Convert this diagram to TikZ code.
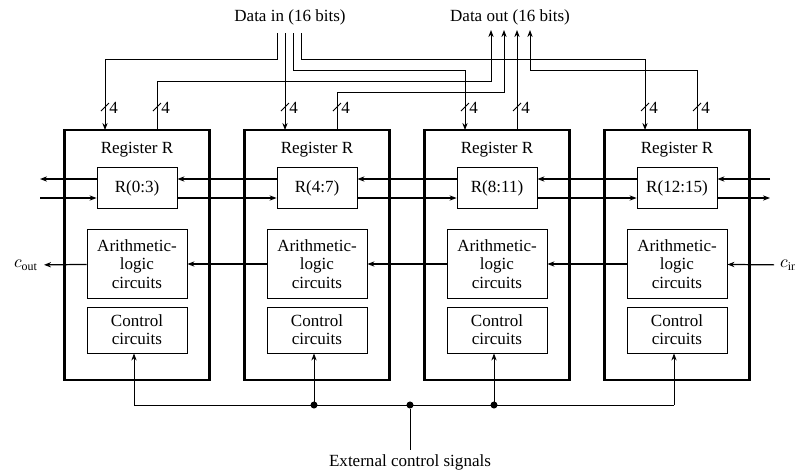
\documentclass[tikz,border=0pt]{standalone}
\usepackage{fontspec}
\setmainfont{Liberation Serif}
\usetikzlibrary{
    arrows.meta,
    positioning
}

\begin{document}
\begin{tikzpicture}[
        x=0.02cm,
        y=-0.02cm,
        >={Stealth[length=4pt,width=3pt]},
        every node/.style={
            font=\fontsize{9.7}{10.4}\selectfont
        },
        blk/.style={draw, line width=1.2pt, minimum width=2.9cm, minimum height=5cm},
        reg/.style={draw, line width=0.5pt, minimum width=1.6cm, minimum height=0.82cm},
        alu/.style={draw, line width=0.5pt, minimum width=2cm, minimum height=1.38cm, align=center},
        ctl/.style={draw, line width=0.5pt, minimum width=2cm, minimum height=0.92cm, align=center},
        bus/.style={line width=0.7pt},
        wire/.style={line width=0.5pt},
        dot/.style={circle, fill, inner sep=0pt, minimum size=4pt}
    ]

    \useasboundingbox (0,0) rectangle (795,474);

    % the four 4-bit slices
    \foreach \i/\x/\bits in {1/137/0:3, 2/317/4:7, 3/497/8:11, 4/677/12:15} {
        \node[blk] (blk\i) at (\x,255) {};
        \node (name\i) at (\x,150) {Register R};
        \node[reg] (reg\i) at (\x,188) {R(\bits)};
        \node[alu] (alu\i) at (\x,264) {Arithmetic-\\logic\\circuits};
        \node[ctl] (ctl\i) at (\x,330) {Control\\circuits};
        \coordinate (in\i) at (\x-32,130);
        \coordinate (out\i) at (\x+20,130);
        \coordinate (cc\i) at (\x-3,405);
    }

    \node (din) at (290,17) {Data in (16 bits)};
    \node (dout) at (510,17) {Data out (16 bits)};
    \coordinate (din1) at (277,33);
    \coordinate (din2) at (285,33);
    \coordinate (din3) at (293,33);
    \coordinate (din4) at (301,33);
    \coordinate (dout1) at (491,30);
    \coordinate (dout2) at (504,30);
    \coordinate (dout3) at (517,30);
    \coordinate (dout4) at (530,30);

    \draw[wire,->] (din1) -- ++(0,26) -| (in1);
    \draw[wire,->] (din2) -- (in2);
    \draw[wire,->] (din3) -- ++(0,37) -| (in3);
    \draw[wire,->] (din4) -- ++(0,26) -| (in4);
    \draw[wire,->] (out1) -- ++(0,-49) -| (dout1);
    \draw[wire,->] (out2) -- ++(0,-38) -| (dout2);
    \draw[wire,->] (out3) -- (dout3);
    \draw[wire,->] (out4) -- ++(0,-60) -| (dout4);

    \foreach \sx in {105,157,285,337,465,517,645,697} {
        \draw[wire] (\sx-4,111) -- (\sx+4,103);
        \node[inner sep=0pt, anchor=west] (w\sx) at (\sx+4,108) {4};
    }

    % shift lines
    \coordinate (sl0) at (40,179);
    \coordinate (sl5) at (770,179);
    \coordinate (sr0) at (40,198);
    \coordinate (sr5) at (770,198);
    \draw[bus,->] (sl5) -- (reg4.east |- sl5);
    \draw[bus,->] (reg4.west |- sl5) -- (reg3.east |- sl5);
    \draw[bus,->] (reg3.west |- sl5) -- (reg2.east |- sl5);
    \draw[bus,->] (reg2.west |- sl5) -- (reg1.east |- sl5);
    \draw[bus,->] (reg1.west |- sl5) -- (sl0);
    \draw[bus,->] (sr0) -- (reg1.west |- sr0);
    \draw[bus,->] (reg1.east |- sr0) -- (reg2.west |- sr0);
    \draw[bus,->] (reg2.east |- sr0) -- (reg3.west |- sr0);
    \draw[bus,->] (reg3.east |- sr0) -- (reg4.west |- sr0);
    \draw[bus,->] (reg4.east |- sr0) -- (sr5);

    % carry chain
    \node[anchor=west] (cin) at (774,265) {$c_{\mathrm{in}}$};
    \node[anchor=east] (cout) at (44,265) {$c_{\mathrm{out}}$};
    \draw[bus,->] (cin) -- (alu4);
    \draw[bus,->] (alu4) -- (alu3);
    \draw[bus,->] (alu3) -- (alu2);
    \draw[bus,->] (alu2) -- (alu1);
    \draw[bus,->] (alu1) -- (cout);

    % control
    \coordinate (ext) at (410,450);
    \node (extlbl) at (410,462) {External control signals};
    \draw[wire] (cc1) -- (cc4);
    \foreach \i in {1,...,4} {
        \draw[wire,->] (cc\i) -- (ctl\i.south -| cc\i);
    }
    \node[dot] (j2) at (cc2) {};
    \node[dot] (j3) at (cc3) {};
    \node[dot] (jx) at (410,405) {};
    \draw[wire] (jx) -- (ext);

\end{tikzpicture}
\end{document}
